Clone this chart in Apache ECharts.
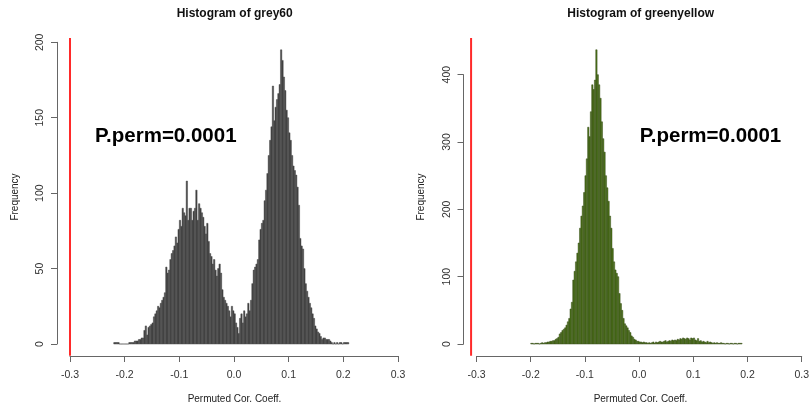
<!DOCTYPE html>
<html>
<head>
<meta charset="utf-8">
<script src="https://cdn.jsdelivr.net/npm/echarts@6/dist/echarts.min.js"></script>
<style>
html,body{margin:0;padding:0;background:#fff;}
#chart{width:812px;height:410px;}
</style>
</head>
<body>
<div id="chart"></div>
<script>
// ---------- data ----------
const binWidth = 0.0025;
const greyStart = -0.22;
const greyCounts = [
  1,1,1,1,0,0,0,0,0,0,
  0,1,1,1,1,2,2,2,3,3,
  4,4,9,12,6,11,12,13,14,18,
  20,22,25,24,27,29,31,34,51,47,
  49,56,60,62,65,71,67,76,82,78,
  90,87,85,108,82,90,90,82,88,90,
  102,82,93,90,87,84,78,73,80,68,
  60,58,53,56,49,45,50,53,47,36,
  31,29,27,25,22,18,25,22,20,14,
  11,7,17,20,14,22,18,20,27,22,
  29,40,49,51,53,56,69,76,80,82,
  95,102,113,125,135,144,171,148,157,162,
  166,172,195,188,177,168,155,150,140,135,
  125,118,115,112,104,92,70,65,63,50,
  40,35,31,27,24,20,17,12,10,8,
  7,5,3,4,4,3,3,3,2,1,
  0,1,0,1,0,1,1,0,1,1,
  1,1
];
const greenStart = -0.2;
const greenCounts = [
  1,1,0,1,1,1,0,1,2,1,
  2,2,3,3,4,4,5,5,7,8,
  10,15,17,20,22,24,28,33,38,52,
  62,95,108,122,135,150,172,190,205,225,
  250,275,322,308,345,385,378,392,437,400,
  385,365,330,305,285,250,232,212,190,172,
  142,122,110,105,100,75,60,50,38,30,
  27,24,20,17,12,10,7,6,4,4,
  3,3,2,3,2,2,1,2,1,2,
  3,1,3,2,3,4,3,3,4,5,
  3,4,5,4,6,5,6,5,7,6,
  8,7,9,8,7,9,8,6,9,8,
  9,6,5,8,4,5,3,4,3,2,
  4,2,3,2,1,2,1,2,1,1,
  2,1,1,0,1,1,0,1,1,0,
  1,1,0,1,1,1
];
const greyObs = -0.30;
const greenObs = -0.31;
const xTicks = [-0.3, -0.2, -0.1, 0.0, 0.1, 0.2, 0.3];
const greyYTicks = [0, 50, 100, 150, 200];
const greenYTicks = [0, 100, 200, 300, 400];
const titles = ['Histogram of grey60', 'Histogram of greenyellow'];
const pText = 'P.perm=0.0001';
const xName = 'Permuted Cor. Coeff.';
const yName = 'Frequency';

// ---------- build ----------
const FONT = '"Liberation Sans", Arial, Helvetica, sans-serif';
function bins(start, counts) {
  return counts.map((c, i) => [start + i * binWidth, start + (i + 1) * binWidth, c]);
}
function barRenderer(fill, stroke) {
  return function (params, api) {
    const p0 = api.coord([api.value(0), 0]);
    const p1 = api.coord([api.value(1), api.value(2)]);
    return {
      type: 'rect',
      shape: { x: p0[0], y: p1[1], width: p1[0] - p0[0], height: p0[1] - p1[1] },
      style: { fill: fill, stroke: stroke, lineWidth: 0.5 }
    };
  };
}
function redLine(params, api) {
  const a = api.coord([api.value(0), api.value(1)]);
  const b = api.coord([api.value(0), api.value(2)]);
  return { type: 'line', shape: { x1: a[0], y1: a[1], x2: b[0], y2: b[1] },
           style: { stroke: '#ff2a2a', lineWidth: 2 } };
}
function fmtX(v) {
  if (Math.abs(v) < 1e-9) return '0.0';
  return v.toFixed(1);
}
function xAxisDef(g) {
  return {
    gridIndex: g, type: 'value',
    min: xTicks[0], max: xTicks[xTicks.length - 1], interval: xTicks[1] - xTicks[0],
    offset: 12, position: 'bottom',
    axisLine: { show: true, onZero: false, lineStyle: { color: '#666', width: 1 } },
    axisTick: { show: true, length: 6, lineStyle: { color: '#666', width: 1 } },
    axisLabel: { fontFamily: FONT, fontSize: 10.5, color: '#333', margin: 14, formatter: fmtX },
    splitLine: { show: false }
  };
}
function yAxisDef(g, ticks) {
  return {
    gridIndex: g, type: 'value',
    min: ticks[0], max: ticks[ticks.length - 1], interval: ticks[1] - ticks[0],
    offset: 13, position: 'left',
    axisLine: { show: true, onZero: false, lineStyle: { color: '#666', width: 1 } },
    axisTick: { show: true, length: 6, lineStyle: { color: '#666', width: 1 } },
    axisLabel: { fontFamily: FONT, fontSize: 10.5, color: '#333', margin: 11, rotate: 90 },
    splitLine: { show: false }
  };
}
const greyMax = Math.max(...greyCounts);
const greenMax = Math.max(...greenCounts);

const panels = [
  { off: 0, grid: { left: 70, top: 42.3, width: 328, height: 301.7 }, pX: 165.8 },
  { off: 406, grid: { left: 476.5, top: 74.7, width: 328, height: 269.3 }, pX: 710.5 }
];

const graphics = [];
panels.forEach((p, k) => {
  graphics.push({ type: 'text', x: 234.7 + p.off, y: 13.5,
    style: { text: titles[k], font: 'bold 12px ' + FONT, fill: '#111', textAlign: 'center', textVerticalAlign: 'middle' } });
  graphics.push({ type: 'text', x: 234.5 + p.off, y: 399,
    style: { text: xName, font: '10px ' + FONT, fill: '#222', textAlign: 'center', textVerticalAlign: 'middle' } });
  graphics.push({ type: 'text', x: 15 + p.off, y: 197, rotation: Math.PI / 2,
    style: { text: yName, font: '10px ' + FONT, fill: '#222', textAlign: 'center', textVerticalAlign: 'middle' } });
  graphics.push({ type: 'text', x: p.pX, y: 136,
    style: { text: pText, font: 'bold 20.5px ' + FONT, fill: '#000', textAlign: 'center', textVerticalAlign: 'middle' } });
});

const option = {
  backgroundColor: '#fff',
  animation: false,
  grid: panels.map(p => Object.assign({ containLabel: false }, p.grid)),
  xAxis: [xAxisDef(0), xAxisDef(1)],
  yAxis: [yAxisDef(0, greyYTicks), yAxisDef(1, greenYTicks)],
  graphic: graphics,
  series: [
    { type: 'custom', xAxisIndex: 0, yAxisIndex: 0, clip: false, silent: true,
      renderItem: barRenderer('#3b3b3b', '#505050'),
      encode: { x: [0, 1], y: 2 }, data: bins(greyStart, greyCounts) },
    { type: 'custom', xAxisIndex: 1, yAxisIndex: 1, clip: false, silent: true,
      renderItem: barRenderer('#4b7414', '#3a4f1e'),
      encode: { x: [0, 1], y: 2 }, data: bins(greenStart, greenCounts) },
    { type: 'custom', xAxisIndex: 0, yAxisIndex: 0, clip: false, silent: true,
      renderItem: redLine, encode: { x: 0, y: [1, 2] },
      data: [[greyObs, -0.04 * greyMax, 1.04 * greyMax]] },
    { type: 'custom', xAxisIndex: 1, yAxisIndex: 1, clip: false, silent: true,
      renderItem: redLine, encode: { x: 0, y: [1, 2] },
      data: [[greenObs, -0.04 * greenMax, 1.04 * greenMax]] }
  ]
};
const chart = echarts.init(document.getElementById('chart'), null, { renderer: 'canvas' });
chart.setOption(option);
</script>
</body>
</html>
